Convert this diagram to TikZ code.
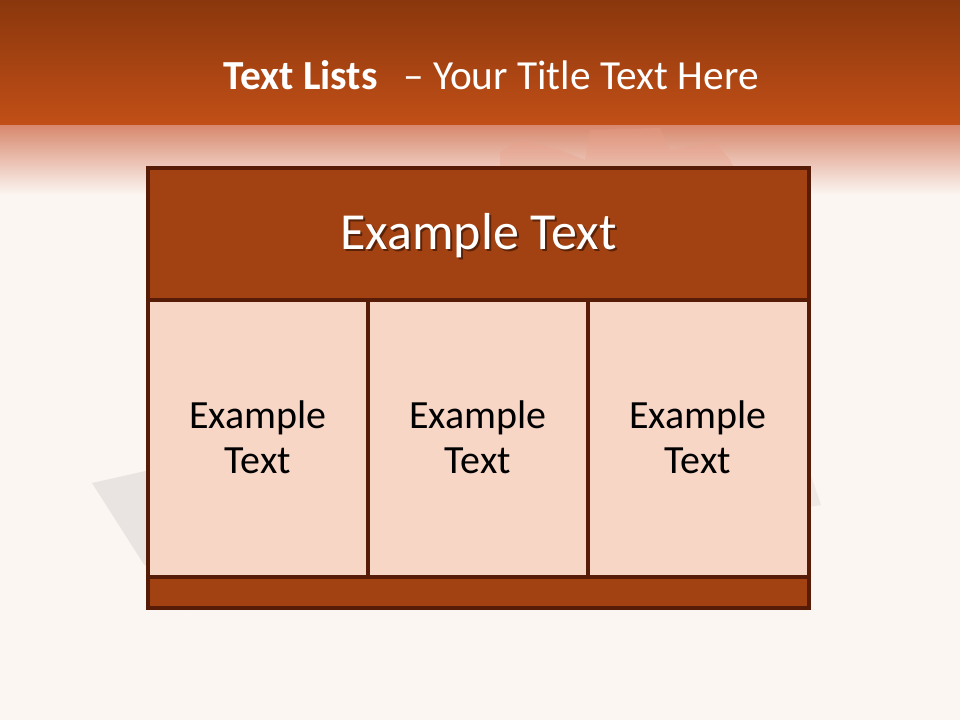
\documentclass[tikz,border=0pt]{standalone}
\usepackage{fontspec}
\setmainfont{Carlito}
\definecolor{bgc}{HTML}{FCF6F2}
\definecolor{topdark}{HTML}{8A370D}
\definecolor{topmid}{HTML}{C24F17}
\definecolor{fadetop}{HTML}{D88A70}
\definecolor{bandc}{HTML}{A24212}
\definecolor{cellc}{HTML}{F8D6C6}
\definecolor{linec}{HTML}{561C08}
\definecolor{flowerc}{HTML}{E9A08A}
\definecolor{shadowc}{HTML}{5A2208}
\tikzset{
  cellbox/.style={draw=linec, line width=2.5pt, fill=cellc},
  bandbox/.style={draw=linec, line width=2.5pt, fill=bandc},
  celltext/.style={font=\fontsize{30}{34}\selectfont, text=black, align=center},
}
\begin{document}
\begin{tikzpicture}[x=0.75pt,y=-0.75pt]
\useasboundingbox (0,0) rectangle (960,720);
\fill[bgc] (0,0) rectangle (960,720);
% header gradient
\shade[top color=topdark, bottom color=topmid] (0,0) rectangle (960,126);
\shade[top color=fadetop, bottom color=bgc] (0,126) rectangle (960,195);
% faint background shapes
\fill[flowerc, opacity=0.35] (500,152) -- (520,140) -- (560,150) -- (585,160) -- (590,130) -- (660,128) -- (670,150) -- (715,142) -- (730,160) -- (735,170) -- (500,170) -- cycle;
\fill[gray, opacity=0.15] (92,483) -- (150,470) -- (150,606) -- (185,610) -- (143,563) -- cycle;
\fill[gray, opacity=0.1] (809,470) -- (821,505) -- (809,507) -- cycle;
% title
\node (title) at (491,75) {\fontsize{31}{37}\selectfont\color{white}\textbf{Text Lists}\ \ \,– Your Title Text Here};
% table
\draw[bandbox] (148,168) rectangle (809,300);
\draw[cellbox] (148,300) rectangle (368,577);
\draw[cellbox] (368,300) rectangle (588,577);
\draw[cellbox] (588,300) rectangle (809,577);
\draw[bandbox] (148,577) rectangle (809,608);
\node (head) [font=\fontsize{39}{46}\selectfont] at (478.5,237) {\rlap{\hspace{1.5pt}\raisebox{-1.5pt}{\textcolor{shadowc}{Example Text}}}\textcolor{white}{Example Text}};
\node (c1) [celltext] at (258,437) {Example\\Text};
\node (c2) [celltext] at (478,437) {Example\\Text};
\node (c3) [celltext] at (698,437) {Example\\Text};
\end{tikzpicture}
\end{document}
